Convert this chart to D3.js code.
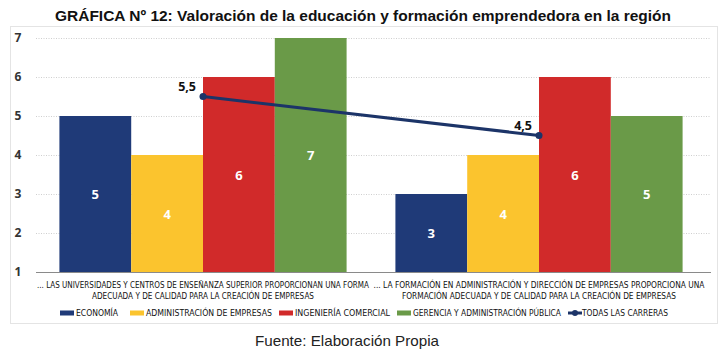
<!DOCTYPE html>
<html lang="es">
<head>
<meta charset="utf-8">
<title>Gráfica 12</title>
<script src="https://d3js.org/d3.v7.min.js"></script>
<style>
  body { margin: 0; background: #fff; }
  svg text { font-family: "Open Sans", "DejaVu Sans", sans-serif; }
</style>
</head>
<body>
<div id="chart"></div>
<script>
// Data
const groups = [
  ["... LAS UNIVERSIDADES Y CENTROS DE ENSEÑANZA SUPERIOR PROPORCIONAN UNA FORMA", "ADECUADA Y DE CALIDAD PARA LA CREACIÓN DE EMPRESAS"],
  ["... LA FORMACIÓN EN ADMINISTRACIÓN Y DIRECCIÓN DE EMPRESAS PROPORCIONA UNA", "FORMACIÓN ADECUADA Y DE CALIDAD PARA LA CREACIÓN DE EMPRESAS"]
];
const carreras = ["ECONOMÍA", "ADMINISTRACIÓN DE EMPRESAS", "INGENIERÍA COMERCIAL", "GERENCIA Y ADMINISTRACIÓN PÚBLICA"];
const colores = ["#1f3a78", "#fbc42e", "#d12a2a", "#6a9a48"];
const valores = [
  [5, 4, 6, 7],
  [3, 4, 6, 5]
];
const todas = [5.5, 4.5];
const todasLabel = ["5,5", "4,5"];
const lineName = "TODAS LAS CARRERAS";
const lineColor = "#1c3468";
const yTicks = [1, 2, 3, 4, 5, 6, 7];

const W = 727, H = 354;
const svg = d3.select("#chart").append("svg")
  .attr("width", W).attr("height", H);

// Title
svg.append("text")
  .attr("x", 363).attr("y", 21)
  .attr("text-anchor", "middle")
  .style("font-family", "'Liberation Sans', Arial, sans-serif")
  .style("font-weight", "bold").style("font-size", "15.5px")
  .attr("fill", "#111")
  .attr("textLength", 616).attr("lengthAdjust", "spacingAndGlyphs")
  .text("GRÁFICA Nº 12: Valoración de la educación y formación emprendedora en la región");

// chart frame
svg.append("rect")
  .attr("x", 10.5).attr("y", 26.5).attr("width", 707).attr("height", 297)
  .attr("fill", "none").attr("stroke", "#c8c8c8").attr("stroke-dasharray", "1,1");

// Scales
const x0 = d3.scaleBand().domain(d3.range(groups.length)).range([35, 707]);
const x1 = d3.scaleBand().domain(d3.range(carreras.length))
  .range([0, x0.bandwidth()]).paddingOuter(0.34).paddingInner(0);
const y = d3.scaleLinear().domain([1, 7]).range([272, 38]);

// gridlines
svg.append("g").selectAll("line")
  .data(yTicks.slice(1))
  .join("line")
  .attr("x1", 36).attr("x2", 711)
  .attr("y1", d => Math.round(y(d)) + 0.5).attr("y2", d => Math.round(y(d)) + 0.5)
  .attr("stroke", "#cfcfcf").attr("stroke-dasharray", "1,1.5");

// y axis labels
const yAxis = svg.append("g")
  .attr("transform", "translate(24,0)")
  .call(d3.axisLeft(y).tickValues(yTicks).tickSize(0).tickPadding(0).tickFormat(d3.format("d")));
yAxis.select(".domain").remove();
yAxis.selectAll(".tick text")
  .attr("text-anchor", "middle").attr("x", -6)
  .style("font-family", "'Open Sans', sans-serif")
  .style("font-size", "12px").style("font-weight", "bold")
  .attr("fill", "#333");

// bars
const gBars = svg.append("g").selectAll("g")
  .data(valores)
  .join("g")
  .attr("transform", (d, i) => `translate(${x0(i)},0)`);

gBars.selectAll("rect")
  .data(d => d)
  .join("rect")
  .attr("x", (d, j) => x1(j))
  .attr("width", x1.bandwidth())
  .attr("y", d => y(d))
  .attr("height", d => y(1) - y(d))
  .attr("fill", (d, j) => colores[j]);

gBars.selectAll("text")
  .data(d => d)
  .join("text")
  .attr("x", (d, j) => x1(j) + x1.bandwidth() / 2)
  .attr("y", d => (y(d) + y(1)) / 2 + 5)
  .attr("text-anchor", "middle")
  .style("font-size", "13px").style("font-weight", "bold")
  .attr("fill", "#fff")
  .text(d => d);

// baseline
svg.append("line")
  .attr("x1", 36).attr("x2", 711)
  .attr("y1", y(1) + 0.5).attr("y2", y(1) + 0.5)
  .attr("stroke", "#8a8a8a").attr("stroke-width", 1.2);

// line series
const lineGen = d3.line()
  .x((d, i) => x0(i) + x0.bandwidth() / 2)
  .y(d => y(d));
svg.append("path")
  .datum(todas)
  .attr("d", lineGen)
  .attr("fill", "none").attr("stroke", lineColor).attr("stroke-width", 3);
svg.append("g").selectAll("circle")
  .data(todas)
  .join("circle")
  .attr("cx", (d, i) => x0(i) + x0.bandwidth() / 2)
  .attr("cy", d => y(d))
  .attr("r", 3.5)
  .attr("fill", lineColor);
svg.append("g").selectAll("text")
  .data(todas)
  .join("text")
  .attr("x", (d, i) => x0(i) + x0.bandwidth() / 2 - 7)
  .attr("y", d => y(d) - 6)
  .attr("text-anchor", "end")
  .style("font-size", "12.5px").style("font-weight", "bold")
  .attr("fill", "#111")
  .text((d, i) => todasLabel[i]);

// category labels
const catWidths = [[332, 222], [331, 274]];
const cat = svg.append("g").selectAll("text")
  .data(groups)
  .join("text")
  .attr("text-anchor", "middle")
  .style("font-family", "'Liberation Sans Narrow', 'DejaVu Sans Condensed', sans-serif")
  .style("font-size", "8.5px")
  .attr("fill", "#111");
cat.each(function(d, i) {
  d3.select(this).selectAll("tspan")
    .data(d)
    .join("tspan")
    .attr("x", x0(i) + x0.bandwidth() / 2)
    .attr("y", (t, k) => 288 + k * 10.5)
    .attr("textLength", (t, k) => catWidths[i][k])
    .attr("lengthAdjust", "spacingAndGlyphs")
    .text(t => t);
});

// legend
const legX = [60, 130, 279, 397];
const legW = [42, 126, 95, 148];
const leg = svg.append("g").attr("transform", "translate(0,313)");
const li = leg.selectAll("g")
  .data(carreras)
  .join("g")
  .attr("transform", (d, i) => `translate(${legX[i]},0)`);
li.append("rect")
  .attr("x", 0).attr("y", -2.5).attr("width", 14).attr("height", 5)
  .attr("fill", (d, i) => colores[i]);
li.append("text")
  .attr("x", 16).attr("y", 3)
  .style("font-family", "'Liberation Sans Narrow', 'DejaVu Sans Condensed', sans-serif")
  .style("font-size", "8.5px").attr("fill", "#111")
  .attr("textLength", (d, i) => legW[i]).attr("lengthAdjust", "spacingAndGlyphs")
  .text(d => d);
const ll = leg.append("g").attr("transform", "translate(568,0)");
ll.append("line").attr("x1", 0).attr("x2", 14).attr("y1", 0).attr("y2", 0)
  .attr("stroke", lineColor).attr("stroke-width", 3);
ll.append("circle").attr("cx", 7).attr("cy", 0).attr("r", 3).attr("fill", lineColor);
ll.append("text")
  .attr("x", 14).attr("y", 3)
  .style("font-family", "'Liberation Sans Narrow', 'DejaVu Sans Condensed', sans-serif")
  .style("font-size", "8.5px").attr("fill", "#111")
  .attr("textLength", 86).attr("lengthAdjust", "spacingAndGlyphs")
  .text(lineName);

// source
svg.append("text")
  .attr("x", 347).attr("y", 346)
  .attr("text-anchor", "middle")
  .style("font-family", "'Liberation Sans Narrow', 'Liberation Sans', sans-serif")
  .style("font-size", "15px").attr("fill", "#222")
  .attr("textLength", 184).attr("lengthAdjust", "spacingAndGlyphs")
  .text("Fuente: Elaboración Propia");
</script>
</body>
</html>
